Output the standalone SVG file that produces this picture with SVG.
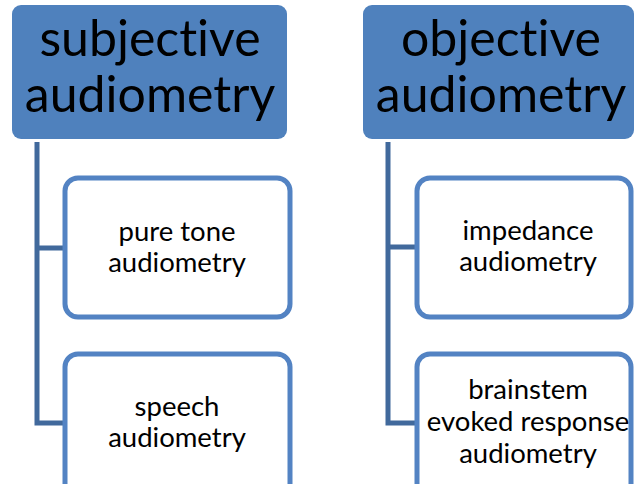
<svg xmlns="http://www.w3.org/2000/svg" width="634" height="484" viewBox="0 0 634 484">
<style>
.head{fill:#4F81BD;}
.child{fill:#FFFFFF;stroke:#5383C3;stroke-width:5;}
.conn{fill:none;stroke:#41699C;stroke-width:5;stroke-linejoin:miter;}
text{font-family:Lato,"Liberation Sans",Arial,sans-serif;fill:#000000;text-anchor:middle;font-variant-ligatures:none;}
.ht{font-size:50px;}
.ct{font-size:27.5px;}
</style>
<rect width="634" height="484" fill="#FFFFFF"/>
<g id="connectors">
<path class="conn" d="M37,142 V248 H65 M37,248 V423 H65"/>
<path class="conn" d="M388,142 V247 H417 M388,247 V423 H417"/>
</g>
<g id="subjective">
<rect class="head" x="12" y="5" width="275" height="134" rx="9"/>
<text class="ht" x="150" y="56">subjective</text>
<text class="ht" x="150" y="112">audiometry</text>
</g>
<g id="pure-tone">
<rect class="child" x="65" y="178" width="225" height="139" rx="13"/>
<text class="ct" x="177" y="241">pure tone</text>
<text class="ct" x="177" y="272">audiometry</text>
</g>
<g id="speech">
<rect class="child" x="65" y="354" width="225" height="150" rx="13"/>
<text class="ct" x="177" y="416">speech</text>
<text class="ct" x="177" y="447">audiometry</text>
</g>
<g id="objective">
<rect class="head" x="363" y="5" width="271" height="134" rx="9"/>
<text class="ht" x="501" y="56">objective</text>
<text class="ht" x="501" y="112">audiometry</text>
</g>
<g id="impedance">
<rect class="child" x="417" y="178" width="214" height="139" rx="13"/>
<text class="ct" x="528" y="240">impedance</text>
<text class="ct" x="528" y="271">audiometry</text>
</g>
<g id="brainstem">
<rect class="child" x="417" y="354" width="214" height="150" rx="13"/>
<text class="ct" x="528" y="399">brainstem</text>
<text class="ct" x="528" y="431">evoked response</text>
<text class="ct" x="528" y="463">audiometry</text>
</g>
</svg>
